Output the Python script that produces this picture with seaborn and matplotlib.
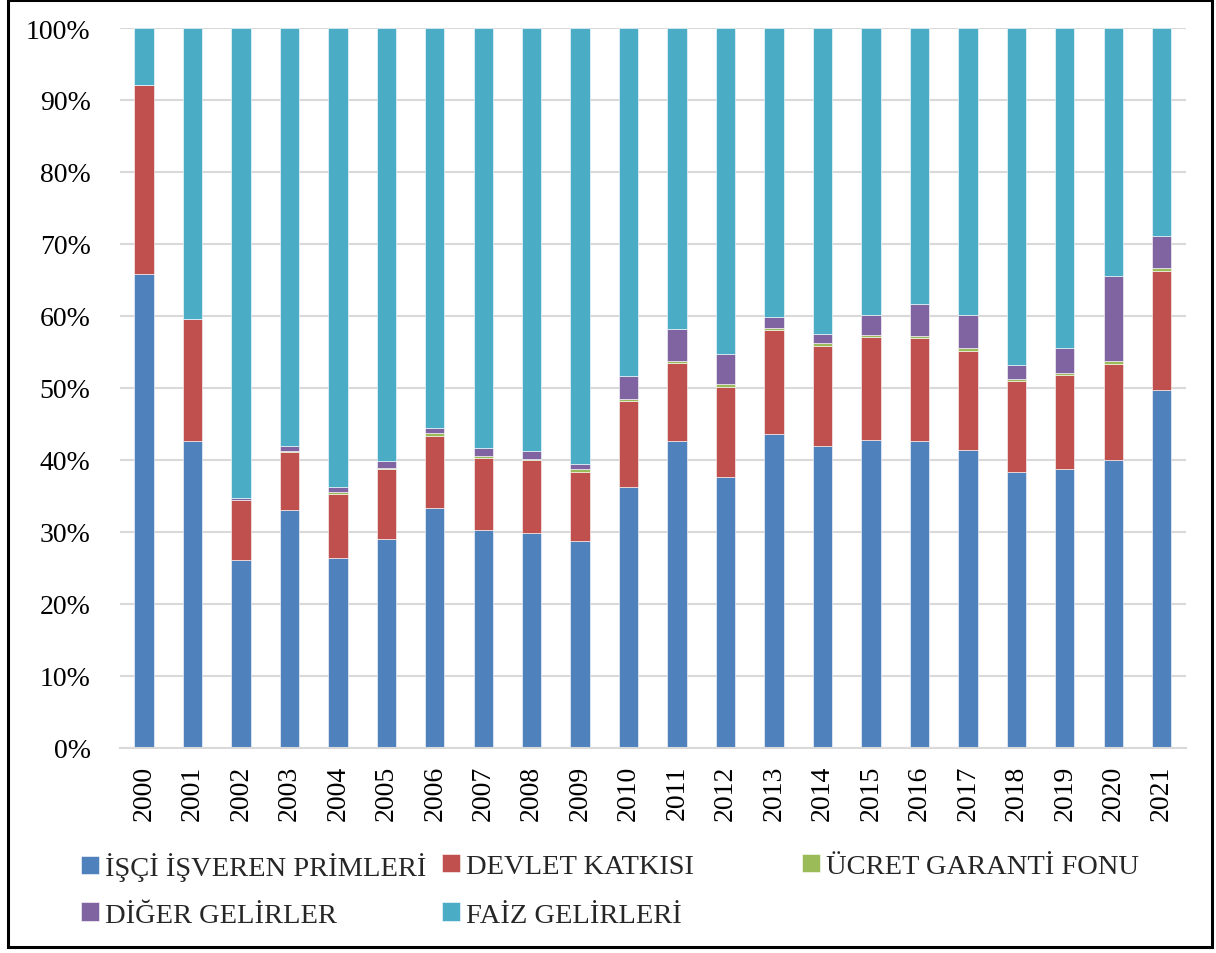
import matplotlib
matplotlib.use("Agg")
import matplotlib.pyplot as plt
import seaborn as sns
import numpy as np
from matplotlib.patches import Rectangle
from matplotlib.ticker import PercentFormatter

# veriler (%)
years = [str(y) for y in range(2000, 2022)]
isci_isveren = [65.8, 42.6, 26.1, 33.1, 26.4, 29.0, 33.4, 30.3, 29.9, 28.8, 36.2,
                42.7, 37.7, 43.6, 41.9, 42.8, 42.7, 41.4, 38.3, 38.8, 40.0, 49.7]
devlet = [26.3, 17.0, 8.3, 8.0, 8.9, 9.7, 10.0, 10.0, 10.1, 9.6, 12.0,
          10.8, 12.5, 14.5, 14.0, 14.3, 14.2, 13.8, 12.7, 13.0, 13.4, 16.5]
ucret_garanti = [0.0, 0.0, 0.1, 0.1, 0.3, 0.2, 0.3, 0.3, 0.2, 0.3, 0.3,
                 0.3, 0.3, 0.3, 0.3, 0.3, 0.3, 0.4, 0.3, 0.3, 0.3, 0.5]
diger = [0.0, 0.0, 0.2, 0.7, 0.7, 0.9, 0.8, 1.1, 1.1, 0.8, 3.1,
         4.4, 4.2, 1.5, 1.3, 2.7, 4.5, 4.6, 1.9, 3.4, 11.8, 4.4]
faiz = [7.9, 40.4, 65.3, 58.1, 63.7, 60.2, 55.5, 58.3, 58.7, 60.5, 48.4,
        41.8, 45.3, 40.1, 42.5, 39.9, 38.3, 39.8, 46.8, 44.5, 34.5, 28.9]

series = [
    ("İŞÇİ İŞVEREN PRİMLERİ", isci_isveren, "#4F81BD"),
    ("DEVLET KATKISI", devlet, "#C0504D"),
    ("ÜCRET GARANTİ FONU", ucret_garanti, "#9BBB59"),
    ("DİĞER GELİRLER", diger, "#8064A2"),
    ("FAİZ GELİRLERİ", faiz, "#4BACC6"),
]

sns.set_theme(style="white")
plt.rcParams["font.family"] = ["Liberation Serif", "DejaVu Serif"]

fig = plt.figure(figsize=(12.16, 9.54), dpi=100)
ax = fig.add_axes([0.0985, 0.2149, 0.8768, 0.7547])

bottom = np.zeros(len(years))
for name, vals, color in series:
    sns.barplot(x=years, y=vals, bottom=bottom, color=color, width=0.4,
                label=name, ax=ax, edgecolor="white", linewidth=0.4,
                saturation=1)
    bottom = bottom + np.array(vals)

ax.set_xlim(-0.5, len(years) - 0.5)
ax.set_ylim(0, 100)
ax.set_yticks(np.arange(0, 101, 10))
ax.yaxis.set_major_formatter(PercentFormatter(decimals=0))
ax.grid(axis="y", color="#d9d9d9", linewidth=1.5)
ax.set_axisbelow(True)
for s in ["top", "right", "left"]:
    ax.spines[s].set_visible(False)
ax.spines["bottom"].set_color("#d9d9d9")
ax.spines["bottom"].set_linewidth(1.5)
ax.tick_params(axis="y", length=0, pad=21, labelsize=20, labelcolor="black")
ax.tick_params(axis="x", length=0, pad=12, labelsize=20, labelcolor="black",
               labelrotation=90)
ax.set_xlabel("")
ax.set_ylabel("")

# legend: Excel tarzı ızgara (2 satır)
handles, labels = ax.get_legend_handles_labels()
ax.get_legend().remove() if ax.get_legend() else None
W, H = 1216, 954
spots = [(81, 867.5), (442, 867.5), (802, 867.5), (81, 916), (442, 916)]
for h, lab, (px, py) in zip(handles, labels, spots):
    fig.legend([h], [lab], loc="center left",
               bbox_to_anchor=(px / W, 1 - py / H), frameon=False,
               fontsize=20.5, handlelength=0.62, handleheight=0.62,
               handletextpad=0.22, borderpad=0, borderaxespad=0)

fig.patches.append(Rectangle((0.0065, 0.006), 0.9905, 0.993, transform=fig.transFigure,
                             fill=False, edgecolor="black", linewidth=2.2))

fig.savefig("out.png", dpi=100)
